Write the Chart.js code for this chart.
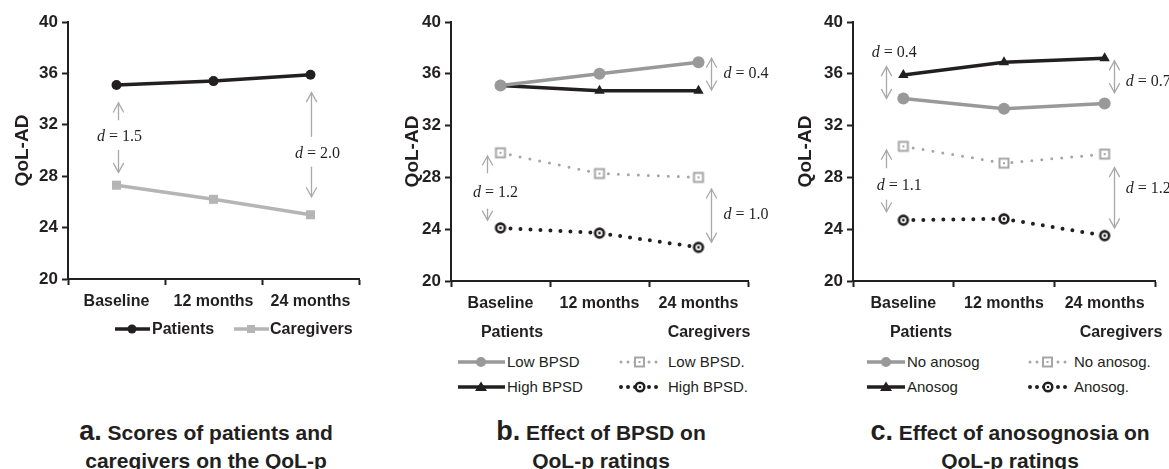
<!DOCTYPE html>
<html>
<head>
<meta charset="utf-8">
<script src="https://cdn.jsdelivr.net/npm/chart.js@4/dist/chart.umd.min.js"></script>
<style>
  html, body { margin: 0; padding: 0; background: #fff; }
  body { width: 1169px; height: 469px; overflow: hidden; position: relative;
         font-family: 'Liberation Sans', Arial, Helvetica, sans-serif; color: #231f20; }
  canvas { position: absolute; top: 0; }
  .t { position: absolute; white-space: nowrap; line-height: 20px; transform: translateY(-50%); }
  .hd { font-size: 16px; font-weight: bold; }
  .lg { font-size: 15px; }
  .lgb { font-size: 16px; font-weight: bold; }
  .mk { position: absolute; overflow: visible; }
  .cap { position: absolute; top: 417px; text-align: center; font-size: 21px; font-weight: bold;
         line-height: 28px; white-space: nowrap; }
  .cap b { font-size: 27px; }
</style>
</head>
<body>
<canvas id="ca" width="390" height="325" style="left:0px"></canvas>
<canvas id="cb" width="390" height="325" style="left:390px"></canvas>
<canvas id="cc" width="389" height="325" style="left:780px"></canvas>

<!-- Panel a legend -->
<svg class="mk" style="left:115px;top:323px" width="35" height="12"><line x1="0" y1="6" x2="35" y2="6" stroke="#231f20" stroke-width="3.5"/><circle cx="17" cy="6" r="4.5" fill="#231f20"/></svg>
<div class="t lgb" style="left:152px;top:329px">Patients</div>
<svg class="mk" style="left:234px;top:323px" width="35" height="12"><line x1="0" y1="6" x2="35" y2="6" stroke="#b5b5b5" stroke-width="3.5"/><rect x="13" y="2" width="8" height="8" fill="#b5b5b5"/></svg>
<div class="t lgb" style="left:270px;top:329px">Caregivers</div>

<!-- Panel b legend -->
<div class="t hd" style="left:512px;top:332px;transform:translate(-50%,-50%)">Patients</div>
<div class="t hd" style="left:709px;top:332px;transform:translate(-50%,-50%)">Caregivers</div>
<svg class="mk" style="left:458px;top:356px" width="47" height="12"><line x1="0" y1="6" x2="47" y2="6" stroke="#999" stroke-width="3.5"/><circle cx="23" cy="6" r="5" fill="#999"/></svg>
<div class="t lg" style="left:507px;top:362px">Low BPSD</div>
<svg class="mk" style="left:618px;top:356px" width="46" height="12"><line x1="3" y1="6" x2="44" y2="6" stroke="#a6a6a6" stroke-width="3" stroke-linecap="round" stroke-dasharray="0 7"/><rect x="17" y="1.5" width="9" height="9" fill="#fff" stroke="#a6a6a6" stroke-width="2"/><rect x="20.5" y="5" width="2" height="2" fill="#a6a6a6"/></svg>
<div class="t lg" style="left:668px;top:362px">Low BPSD.</div>
<svg class="mk" style="left:458px;top:381px" width="47" height="12"><line x1="0" y1="6" x2="47" y2="6" stroke="#231f20" stroke-width="3.5"/><polygon points="23,0.5 29,10 17,10" fill="#231f20"/></svg>
<div class="t lg" style="left:507px;top:387px">High BPSD</div>
<svg class="mk" style="left:618px;top:381px" width="46" height="12"><line x1="3" y1="6" x2="44" y2="6" stroke="#231f20" stroke-width="4" stroke-linecap="round" stroke-dasharray="0 7"/><circle cx="22" cy="6" r="4.3" fill="#fff" stroke="#231f20" stroke-width="2.5"/><circle cx="22" cy="6" r="1.3" fill="#231f20"/></svg>
<div class="t lg" style="left:668px;top:387px">High BPSD.</div>

<!-- Panel c legend -->
<div class="t hd" style="left:921px;top:332px;transform:translate(-50%,-50%)">Patients</div>
<div class="t hd" style="left:1121px;top:332px;transform:translate(-50%,-50%)">Caregivers</div>
<svg class="mk" style="left:867px;top:356px" width="38" height="12"><line x1="0" y1="6" x2="38" y2="6" stroke="#999" stroke-width="3.5"/><circle cx="19" cy="6" r="5" fill="#999"/></svg>
<div class="t lg" style="left:907px;top:362px">No anosog</div>
<svg class="mk" style="left:1027px;top:356px" width="44" height="12"><line x1="3" y1="6" x2="42" y2="6" stroke="#a6a6a6" stroke-width="3" stroke-linecap="round" stroke-dasharray="0 7"/><rect x="16" y="1.5" width="9" height="9" fill="#fff" stroke="#a6a6a6" stroke-width="2"/><rect x="19.5" y="5" width="2" height="2" fill="#a6a6a6"/></svg>
<div class="t lg" style="left:1074px;top:362px">No anosog.</div>
<svg class="mk" style="left:867px;top:381px" width="38" height="12"><line x1="0" y1="6" x2="38" y2="6" stroke="#231f20" stroke-width="3.5"/><polygon points="19,0.5 25,10 13,10" fill="#231f20"/></svg>
<div class="t lg" style="left:907px;top:387px">Anosog</div>
<svg class="mk" style="left:1027px;top:381px" width="44" height="12"><line x1="3" y1="6" x2="42" y2="6" stroke="#231f20" stroke-width="4" stroke-linecap="round" stroke-dasharray="0 7"/><circle cx="21" cy="6" r="4.3" fill="#fff" stroke="#231f20" stroke-width="2.5"/><circle cx="21" cy="6" r="1.3" fill="#231f20"/></svg>
<div class="t lg" style="left:1074px;top:387px">Anosog.</div>

<!-- Captions -->
<div class="cap" style="left:206px;transform:translateX(-50%)"><b>a.</b> Scores of patients and<br>caregivers on the QoL-p</div>
<div class="cap" style="left:601px;transform:translateX(-50%)"><b>b.</b> Effect of BPSD on<br>QoL-p ratings</div>
<div class="cap" style="left:1010px;transform:translateX(-50%)"><b>c.</b> Effect of anosognosia on<br>QoL-p ratings</div>

<script>
// ---------------- DATA ----------------
const categories = ['Baseline', '12 months', '24 months'];
const yTickValues = [20, 24, 28, 32, 36, 40];
const yAxisTitle = 'QoL-AD';

// Panel a: patients vs caregivers
const aPatients   = [35.1, 35.4, 35.9];
const aCaregivers = [27.3, 26.2, 25.0];

// Panel b: effect of BPSD
const bPatientsLowBPSD    = [35.1, 36.0, 36.9];
const bPatientsHighBPSD   = [35.1, 34.7, 34.7];
const bCaregiversLowBPSD  = [29.9, 28.3, 28.0];
const bCaregiversHighBPSD = [24.1, 23.7, 22.6];

// Panel c: effect of anosognosia
const cPatientsNoAnosog   = [34.1, 33.3, 33.7];
const cPatientsAnosog     = [35.9, 36.9, 37.2];
const cCaregiversNoAnosog = [30.4, 29.1, 29.8];
const cCaregiversAnosog   = [24.7, 24.8, 23.5];

// Effect sizes (Cohen's d) shown on each panel
const aEffectSizes = ['1.5', '2.0'];
const bEffectSizes = ['0.4', '1.0', '1.2'];
const cEffectSizes = ['0.4', '0.7', '1.1', '1.2'];

// ---------------- STYLE ----------------
const FONT = "'Liberation Sans', Arial, Helvetica, sans-serif";
const SERIF = "'Liberation Serif', 'Times New Roman', serif";
const INK = '#231f20';
const GRAY = '#999999';
const LIGHT = '#b5b5b5';
const DOTGRAY = '#a6a6a6';
const ARROW = '#a9a9a9';

function markerSquare(color) {
  const c = document.createElement('canvas'); c.width = 14; c.height = 14;
  const g = c.getContext('2d');
  g.fillStyle = '#fff'; g.fillRect(2.5, 2.5, 9, 9);
  g.strokeStyle = color; g.lineWidth = 2; g.strokeRect(2.5, 2.5, 9, 9);
  g.fillStyle = color; g.fillRect(6, 6, 2, 2);
  return c;
}
function markerRing(color) {
  const c = document.createElement('canvas'); c.width = 14; c.height = 14;
  const g = c.getContext('2d');
  g.fillStyle = '#fff'; g.beginPath(); g.arc(7, 7, 4.5, 0, Math.PI * 2); g.fill();
  g.strokeStyle = color; g.lineWidth = 2.6; g.beginPath(); g.arc(7, 7, 4.4, 0, Math.PI * 2); g.stroke();
  g.fillStyle = color; g.beginPath(); g.arc(7, 7, 1.4, 0, Math.PI * 2); g.fill();
  return c;
}

function solidSet(data, color, pointStyle, radius) {
  return { data, borderColor: color, backgroundColor: color, borderWidth: 3.5,
           pointStyle, pointRadius: radius, pointBorderWidth: 0, pointBackgroundColor: color,
           tension: 0, clip: false };
}
function dottedSet(data, color, img, width) {
  return { data, borderColor: color, backgroundColor: color, borderWidth: width,
           borderDash: [0, 10], borderCapStyle: 'round',
           pointStyle: img, pointRadius: 7, tension: 0, clip: false };
}

// annotation geometry: arrows {cat, dx, tail, head, both}; labels {cat, dx, y, d, align}
function effectPlugin(arrows, labels) {
  return {
    id: 'effects',
    afterDatasetsDraw(chart) {
      const ctx = chart.ctx, xs = chart.scales.x, ys = chart.scales.y;
      ctx.save();
      ctx.strokeStyle = ARROW; ctx.lineWidth = 1.3; ctx.lineCap = 'round';
      const head = (x, y, dir) => {
        ctx.beginPath();
        ctx.moveTo(x - 5, y - dir * 9); ctx.lineTo(x, y); ctx.lineTo(x + 5, y - dir * 9);
        ctx.stroke();
      };
      arrows.forEach(a => {
        const x = Math.round(xs.getPixelForValue(a.cat) + a.dx) + 0.5;
        const yt = ys.getPixelForValue(a.tail), yh = ys.getPixelForValue(a.head);
        ctx.beginPath(); ctx.moveTo(x, yt); ctx.lineTo(x, yh); ctx.stroke();
        const dir = yh < yt ? -1 : 1;
        head(x, yh, dir);
        if (a.both) head(x, yt, -dir);
      });
      ctx.fillStyle = INK; ctx.textBaseline = 'middle';
      labels.forEach(l => {
        const italic = 'italic 16px ' + SERIF, reg = '16px ' + SERIF;
        ctx.font = italic; const w1 = ctx.measureText('d').width;
        ctx.font = reg; const rest = ' = ' + l.d; const w2 = ctx.measureText(rest).width;
        let x = xs.getPixelForValue(l.cat) + l.dx;
        if (l.align === 'center') x -= (w1 + w2) / 2;
        const y = ys.getPixelForValue(l.y);
        ctx.textAlign = 'left';
        ctx.font = italic; ctx.fillText('d', x, y);
        ctx.font = reg; ctx.fillText(rest, x + w1, y);
      });
      ctx.restore();
    }
  };
}

function makeChart(id, datasets, lay, plugin) {
  return new Chart(document.getElementById(id), {
    type: 'line',
    data: { labels: categories, datasets },
    plugins: [plugin],
    options: {
      responsive: false, animation: false, events: [],
      devicePixelRatio: window.devicePixelRatio || 1,
      layout: { padding: { left: lay.padLeft, right: lay.padRight, top: 22, bottom: 0 } },
      plugins: { legend: { display: false }, tooltip: { enabled: false } },
      scales: {
        x: {
          type: 'category', offset: true,
          grid: { display: true, drawOnChartArea: false, drawTicks: true, tickLength: 6,
                  tickWidth: 2, tickColor: INK, offset: true },
          border: { display: true, color: INK, width: 2 },
          ticks: { color: INK, font: { family: FONT, size: 16, weight: 'bold' }, padding: 7,
                   maxRotation: 0, autoSkip: false },
          afterFit(s) { s.height = lay.xHeight; }
        },
        y: {
          min: yTickValues[0], max: yTickValues[yTickValues.length - 1],
          afterBuildTicks(s) { s.ticks = yTickValues.map(v => ({ value: v })); },
          grid: { display: true, drawOnChartArea: false, drawTicks: true, tickLength: 6,
                  tickWidth: 2, tickColor: INK },
          border: { display: true, color: INK, width: 2 },
          ticks: { color: INK, font: { family: FONT, size: 17, weight: 'bold' }, padding: 4 },
          title: { display: true, text: yAxisTitle, color: INK,
                   font: { family: FONT, size: 19, weight: 'bold' }, padding: 0 },
          afterFit(s) { s.width = lay.yWidth; }
        }
      }
    }
  });
}

// Panel a
makeChart('ca', [
  solidSet(aPatients, INK, 'circle', 5),
  solidSet(aCaregivers, LIGHT, 'rect', 6.4)
], { padLeft: 11, padRight: 31, yWidth: 57, xHeight: 46 },
effectPlugin([
  { cat: 0, dx: 1, tail: 32.4, head: 33.7 },
  { cat: 0, dx: 1, tail: 30.0, head: 28.3 },
  { cat: 2, dx: 0, tail: 31.1, head: 34.5 },
  { cat: 2, dx: 0, tail: 28.7, head: 26.4 }
], [
  { cat: 0, dx: 3, y: 31.05, d: aEffectSizes[0], align: 'center' },
  { cat: 2, dx: 7, y: 29.73, d: aEffectSizes[1], align: 'center' }
]));

// Panel b
makeChart('cb', [
  solidSet(bPatientsLowBPSD, GRAY, 'circle', 6),
  solidSet(bPatientsHighBPSD, INK, 'triangle', 6),
  dottedSet(bCaregiversLowBPSD, DOTGRAY, markerSquare(DOTGRAY), 3),
  dottedSet(bCaregiversHighBPSD, INK, markerRing(INK), 4)
], { padLeft: 11, padRight: 32, yWidth: 50, xHeight: 44 },
effectPlugin([
  { cat: 2, dx: 12, tail: 34.75, head: 37.2, both: true },
  { cat: 2, dx: 12, tail: 23.0, head: 27.1, both: true },
  { cat: 0, dx: -14, tail: 28.35, head: 29.65 },
  { cat: 0, dx: -14, tail: 25.55, head: 24.7 }
], [
  { cat: 2, dx: 25, y: 35.98, d: bEffectSizes[0], align: 'left' },
  { cat: 2, dx: 25, y: 25.1, d: bEffectSizes[1], align: 'left' },
  { cat: 0, dx: -5, y: 26.8, d: bEffectSizes[2], align: 'center' }
]));

// Panel c
makeChart('cc', [
  solidSet(cPatientsNoAnosog, GRAY, 'circle', 6),
  solidSet(cPatientsAnosog, INK, 'triangle', 6),
  dottedSet(cCaregiversNoAnosog, DOTGRAY, markerSquare(DOTGRAY), 3),
  dottedSet(cCaregiversAnosog, INK, markerRing(INK), 4)
], { padLeft: 14, padRight: 14, yWidth: 59, xHeight: 44 },
effectPlugin([
  { cat: 0, dx: -17, tail: 34.1, head: 36.55, both: true },
  { cat: 2, dx: 9, tail: 34.55, head: 37.0, both: true },
  { cat: 0, dx: -17, tail: 28.75, head: 30.1 },
  { cat: 0, dx: -17, tail: 26.25, head: 25.35 },
  { cat: 2, dx: 9, tail: 24.1, head: 28.75, both: true }
], [
  { cat: 0, dx: -9, y: 37.63, d: cEffectSizes[0], align: 'center' },
  { cat: 2, dx: 21, y: 35.37, d: cEffectSizes[1], align: 'left' },
  { cat: 0, dx: -4, y: 27.36, d: cEffectSizes[2], align: 'center' },
  { cat: 2, dx: 21, y: 27.1, d: cEffectSizes[3], align: 'left' }
]));
</script>
</body>
</html>
